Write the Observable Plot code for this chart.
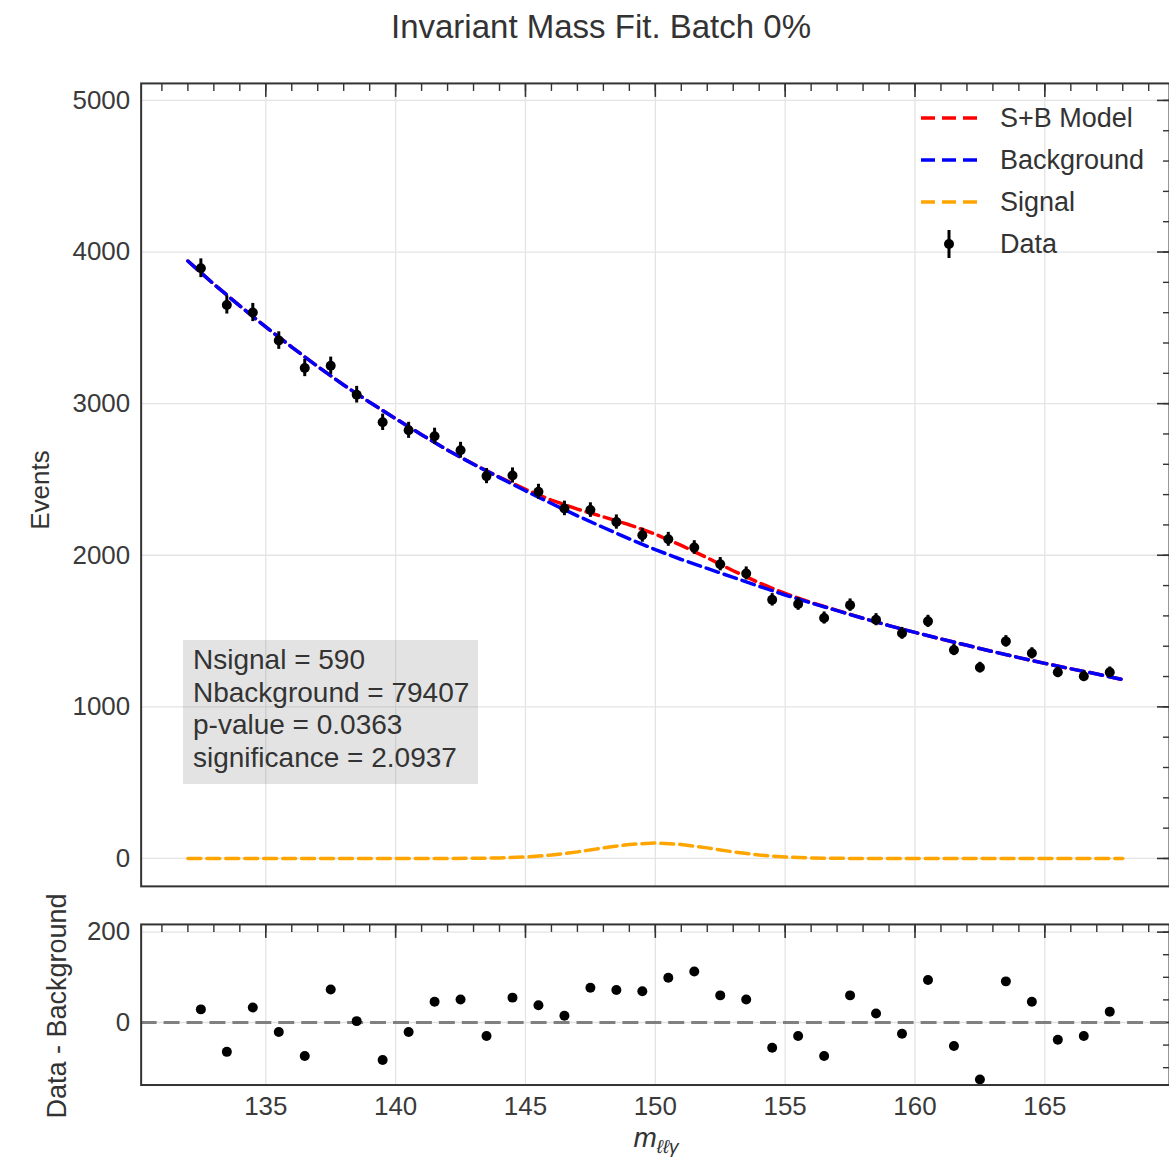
<!DOCTYPE html>
<html>
<head>
<meta charset="utf-8">
<script src="https://cdn.jsdelivr.net/npm/d3@7"></script>
<script src="https://cdn.jsdelivr.net/npm/@observablehq/plot@0.6"></script>
<style>
  html, body { margin: 0; padding: 0; background: #fff; overflow: hidden; }
  #fig { position: relative; width: 1169px; height: 1164px; overflow: hidden; background: #fff;
         font-family: "Liberation Sans", Arial, Helvetica, sans-serif; color: #333; }
  .abs { position: absolute; white-space: nowrap; }
  #mainPlot { position: absolute; left: 0; top: 60px; }
  #residPlot { position: absolute; left: 0; top: 900px; }
  .leg-row { position: absolute; left: 921px; height: 34px; width: 260px; }
  .leg-row svg { position: absolute; left: 0; top: 0; }
  .leg-row span { position: absolute; left: 79px; top: 0; font-size: 27px; color: #333; line-height: 34px; white-space: nowrap; }
</style>
</head>
<body>
<div id="fig">
  <div class="abs" id="title" style="left:601px; top:10px; transform:translateX(-50%); font-size:33px; line-height:34px;">Invariant Mass Fit. Batch 0%</div>
  <div id="mainPlot"></div>
  <div id="residPlot"></div>
  <div class="abs" style="left:40px; top:490px; transform:translate(-50%,-50%) rotate(-90deg); font-size:26px;">Events</div>
  <div class="abs" style="left:57px; top:1006px; transform:translate(-50%,-50%) rotate(-90deg); font-size:27px;">Data - Background</div>
  <div class="abs" style="left:656px; top:1140px; transform:translate(-50%,-50%); font-size:28px; font-style:italic;">m<sub style="font-size:19px;">ℓℓγ</sub></div>
  <div class="abs" id="statbox" style="left:183px; top:640px; width:275px; height:136px; padding:4px 10px; background:rgba(128,128,128,0.22); font-size:28px; line-height:32.7px; color:#333;"></div>
  <div id="legend"></div>
</div>
<script>
// ---------- data ----------
const binCenters = [132.5,133.5,134.5,135.5,136.5,137.5,138.5,139.5,140.5,141.5,142.5,143.5,144.5,145.5,146.5,147.5,148.5,149.5,
                    150.5,151.5,152.5,153.5,154.5,155.5,156.5,157.5,158.5,159.5,160.5,161.5,162.5,163.5,164.5,165.5,166.5,167.5];
const dataEvents = [3893,3651,3601,3416,3235,3250,3059,2877,2824,2785,2693,2522,2526,2419,2309,2298,2219,2132,
                    2105,2051,1941,1880,1706,1678,1586,1671,1575,1485,1564,1375,1259,1432,1353,1228,1202,1228];
const dataErrors = [62,60,60,58,57,57,55,54,53,53,52,50,50,49,48,48,47,46,
                    46,45,44,43,41,41,40,41,40,39,40,37,35,38,37,35,35,35];
const residuals = [29,-65,33,-21,-74,73,3,-83,-21,46,51,-30,55,38,15,77,72,69,
                   99,113,60,51,-56,-30,-74,60,20,-25,94,-52,-126,91,46,-38,-30,24];

const curveX = [132,133,134,135,136,137,138,139,140,141,142,143,144,145,146,147,148,149,150,
                151,152,153,154,155,156,157,158,159,160,161,162,163,164,165,166,167,168];
const background = [3941,3788,3645,3506,3373,3245,3123,3009,2901,2795,2693,2600,2512,2425,2341,2260,2183,2108,2037,
                    1972,1913,1854,1795,1738,1685,1635,1584,1536,1491,1448,1406,1364,1325,1287,1251,1217,1180];
const signal = [0,0,0,0,0,0,0,0,0,0,0.2,1,3.4,9.6,22.5,43.6,69.9,92.8,102,
                92.8,69.9,43.6,22.5,9.6,3.4,1,0.2,0,0,0,0,0,0,0,0,0,0];
const sPlusB = [3941,3788,3645,3506,3373,3245,3123,3009,2901,2795,2693,2601,2515,2435,2364,2304,2253,2201,2139,
                2065,1983,1898,1818,1748,1688,1636,1584,1536,1491,1448,1406,1364,1325,1287,1251,1217,1180];

const xTickValues = [135,140,145,150,155,160,165];
const yTickMain = [0,1000,2000,3000,4000,5000];
const yTickResid = [0,200];
const statLines = ["Nsignal = 590","Nbackground = 79407","p-value = 0.0363","significance = 2.0937"];
const legendItems = [
  {label:"S+B Model", color:"#ff0000", kind:"line"},
  {label:"Background", color:"#0000ff", kind:"line"},
  {label:"Signal", color:"#ffa500", kind:"line"},
  {label:"Data", color:"#000000", kind:"point"}
];

// ---------- tables ----------
const points = binCenters.map((x,i) => ({x, y: dataEvents[i], err: dataErrors[i], res: residuals[i]}));
const curves = curveX.map((x,i) => ({x, bg: background[i], sig: signal[i], sb: sPlusB[i]}));

const xDomain = [130.2, 169.8];
const xMinor = d3.range(131, 170, 1);
const yMinorMain = d3.range(0, 5001, 200);
const yMinorResid = d3.range(-100, 201, 50);
const font = '"Liberation Sans", Arial, Helvetica, sans-serif';
const frameColor = "#333";
const gridColor = "#e4e4e4";
const dash = "13,6";
const plain = d => String(d);

const mainChart = Plot.plot({
  width: 1172, height: 845,
  marginLeft: 141, marginRight: 0, marginTop: 23, marginBottom: 17,
  x: {domain: xDomain},
  y: {domain: [-184, 5112]},
  style: {fontFamily: font, fontSize: "26px", color: "#3a3a3a", background: "transparent"},
  marks: [
    Plot.gridX(xTickValues, {stroke: gridColor, strokeOpacity: 1, strokeWidth: 1.3}),
    Plot.gridY(yTickMain, {stroke: gridColor, strokeOpacity: 1, strokeWidth: 1.3}),
    Plot.axisY(yTickMain, {anchor: "left", tickSize: 0, tickPadding: 11, fontSize: 26, label: null, tickFormat: plain}),
    Plot.axisX(xMinor, {anchor: "top", tickSize: 7, dy: 7, tickFormat: () => "", label: null, stroke: frameColor, strokeWidth: 1.4}),
    Plot.axisX(xTickValues, {anchor: "top", tickSize: 13, dy: 13, tickFormat: () => "", label: null, stroke: frameColor, strokeWidth: 1.6}),
    Plot.axisY(yMinorMain, {anchor: "right", tickSize: 7, dx: -7, tickFormat: () => "", label: null, stroke: frameColor, strokeWidth: 1.4}),
    Plot.axisY(yTickMain, {anchor: "right", tickSize: 13, dx: -13, tickFormat: () => "", label: null, stroke: frameColor, strokeWidth: 1.6}),
    Plot.line(curves, {x: "x", y: "sb", stroke: "#ff0000", strokeWidth: 3.5, strokeDasharray: dash}),
    Plot.line(curves, {x: "x", y: "bg", stroke: "#0000ff", strokeWidth: 3.5, strokeDasharray: dash}),
    Plot.line(curves, {x: "x", y: "sig", stroke: "#ffa500", strokeWidth: 3.5, strokeDasharray: dash}),
    Plot.ruleX(points, {x: "x", y1: d => d.y - d.err, y2: d => d.y + d.err, stroke: "#000", strokeWidth: 3}),
    Plot.dot(points, {x: "x", y: "y", r: 5, fill: "#000", stroke: null}),
    Plot.frame({stroke: frameColor, strokeWidth: 2})
  ]
});
document.getElementById("mainPlot").appendChild(mainChart);

const residChart = Plot.plot({
  width: 1172, height: 230,
  marginLeft: 141, marginRight: 0, marginTop: 24, marginBottom: 45,
  x: {domain: xDomain},
  y: {domain: [-138.4, 217]},
  style: {fontFamily: font, fontSize: "26px", color: "#3a3a3a", background: "transparent"},
  marks: [
    Plot.gridX(xTickValues, {stroke: gridColor, strokeOpacity: 1, strokeWidth: 1.3}),
    Plot.gridY(yTickResid, {stroke: gridColor, strokeOpacity: 1, strokeWidth: 1.3}),
    Plot.axisY(yTickResid, {anchor: "left", tickSize: 0, tickPadding: 11, fontSize: 26, label: null, tickFormat: plain}),
    Plot.axisX(xTickValues, {anchor: "bottom", tickSize: 0, tickPadding: 12, fontSize: 26, label: null, tickFormat: plain}),
    Plot.axisX(xMinor, {anchor: "top", tickSize: 7, dy: 7, tickFormat: () => "", label: null, stroke: frameColor, strokeWidth: 1.4}),
    Plot.axisX(xTickValues, {anchor: "top", tickSize: 13, dy: 13, tickFormat: () => "", label: null, stroke: frameColor, strokeWidth: 1.6}),
    Plot.axisY(yMinorResid, {anchor: "right", tickSize: 7, dx: -7, tickFormat: () => "", label: null, stroke: frameColor, strokeWidth: 1.4}),
    Plot.axisY(yTickResid, {anchor: "right", tickSize: 13, dx: -13, tickFormat: () => "", label: null, stroke: frameColor, strokeWidth: 1.6}),
    Plot.ruleY([0], {stroke: "#808080", strokeWidth: 3, strokeDasharray: "16,7"}),
    Plot.dot(points, {x: "x", y: "res", r: 5, fill: "#000", stroke: null}),
    Plot.frame({stroke: frameColor, strokeWidth: 2})
  ]
});
document.getElementById("residPlot").appendChild(residChart);

// stat box
const box = document.getElementById("statbox");
statLines.forEach(t => { const d = document.createElement("div"); d.textContent = t; box.appendChild(d); });

// legend
const legend = document.getElementById("legend");
const legendCenters = [118, 160, 202, 244];
legendItems.forEach((it, i) => {
  const row = document.createElement("div");
  row.className = "leg-row";
  row.style.top = (legendCenters[i] - 17) + "px";
  const ns = "http://www.w3.org/2000/svg";
  const svg = document.createElementNS(ns, "svg");
  svg.setAttribute("width", "56"); svg.setAttribute("height", "34");
  if (it.kind === "line") {
    const l = document.createElementNS(ns, "line");
    l.setAttribute("x1", 0); l.setAttribute("x2", 56); l.setAttribute("y1", 17); l.setAttribute("y2", 17);
    l.setAttribute("stroke", it.color); l.setAttribute("stroke-width", 3.5); l.setAttribute("stroke-dasharray", "14,7");
    svg.appendChild(l);
  } else {
    const l = document.createElementNS(ns, "line");
    l.setAttribute("x1", 28); l.setAttribute("x2", 28); l.setAttribute("y1", 3); l.setAttribute("y2", 31);
    l.setAttribute("stroke", it.color); l.setAttribute("stroke-width", 3);
    svg.appendChild(l);
    const c = document.createElementNS(ns, "circle");
    c.setAttribute("cx", 28); c.setAttribute("cy", 17); c.setAttribute("r", 5); c.setAttribute("fill", it.color);
    svg.appendChild(c);
  }
  row.appendChild(svg);
  const s = document.createElement("span");
  s.textContent = it.label;
  row.appendChild(s);
  legend.appendChild(row);
});
</script>
</body>
</html>
